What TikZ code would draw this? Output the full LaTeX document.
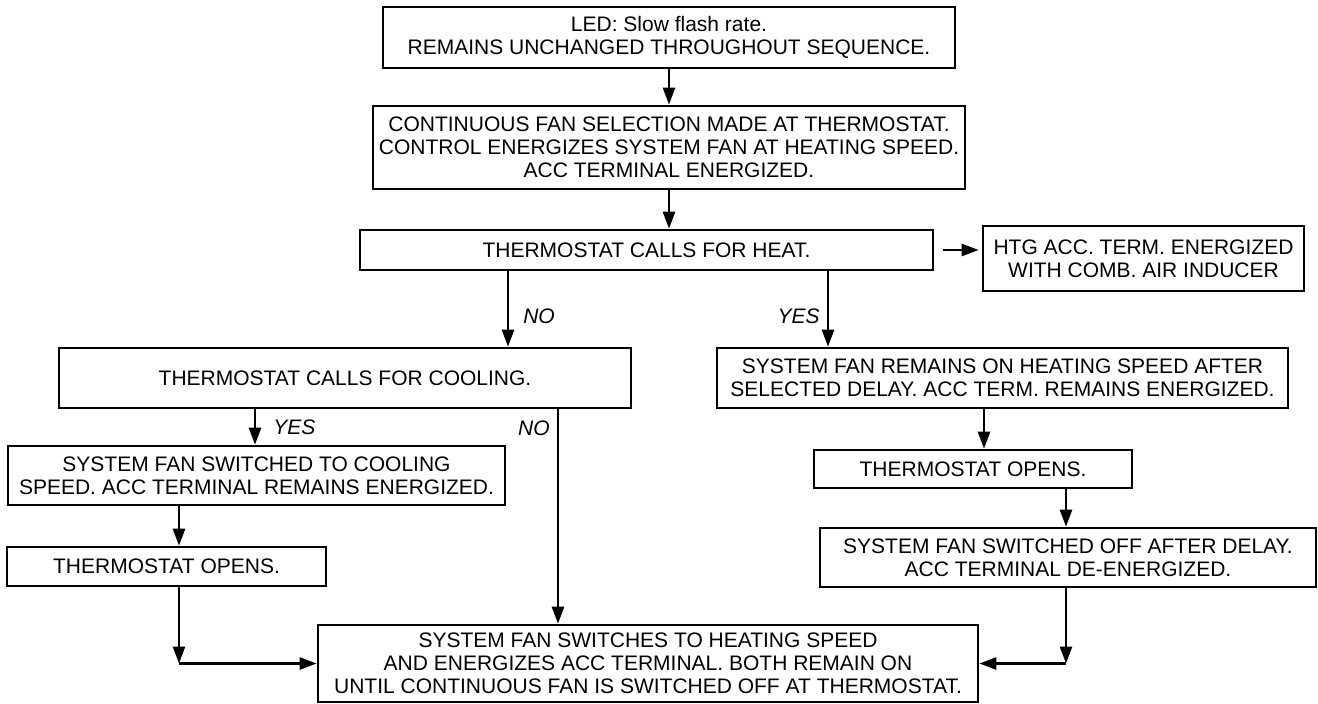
\documentclass[tikz,border=0pt]{standalone}
\usepackage{fontspec}
\setmainfont{Liberation Sans}
\usetikzlibrary{arrows.meta}

\begin{document}
\begin{tikzpicture}[x=1pt, y=-1pt,
  box/.style={draw, line width=2.6pt, align=center, inner sep=0pt, font=\fontsize{21}{23}\selectfont},
  arr/.style={line width=2.6pt, -{Triangle[length=17pt,width=12pt]}},
  lbl/.style={inner sep=0pt, font=\fontsize{21}{23}\selectfont\itshape}]

\useasboundingbox (0,0) rectangle (1318,704);

\node [box, minimum width=572pt, minimum height=61pt] (led) at (669,37.5) {LED: Slow flash rate.\\REMAINS UNCHANGED THROUGHOUT SEQUENCE.};
\node [box, minimum width=592pt, minimum height=83pt] (contfan) at (669,147.5) {CONTINUOUS FAN SELECTION MADE AT THERMOSTAT.\\CONTROL ENERGIZES SYSTEM FAN AT HEATING SPEED.\\ACC TERMINAL ENERGIZED.};
\node [box, minimum width=573pt, minimum height=40pt] (heat) at (646.5,250) {THERMOSTAT CALLS FOR HEAT.};
\node [box, minimum width=321pt, minimum height=65pt] (htg) at (1143.5,258.5) {HTG ACC. TERM. ENERGIZED\\WITH COMB. AIR INDUCER};

\node [box, minimum width=572pt, minimum height=60pt] (cool) at (345,378) {THERMOSTAT CALLS FOR COOLING.};
\node [box, minimum width=571pt, minimum height=60pt] (remain) at (1002.5,378) {SYSTEM FAN REMAINS ON HEATING SPEED AFTER\\SELECTED DELAY. ACC TERM. REMAINS ENERGIZED.};
\node [box, minimum width=497pt, minimum height=59pt] (coolspd) at (256.5,475.5) {SYSTEM FAN SWITCHED TO COOLING\\SPEED. ACC TERMINAL REMAINS ENERGIZED.};
\node [box, minimum width=319pt, minimum height=39pt] (openl) at (166.5,566.5) {THERMOSTAT OPENS.};
\node [box, minimum width=318pt, minimum height=38pt] (openr) at (973,469) {THERMOSTAT OPENS.};
\node [box, minimum width=496pt, minimum height=59pt] (fanoff) at (1068,557.5) {SYSTEM FAN SWITCHED OFF AFTER DELAY.\\ACC TERMINAL DE-ENERGIZED.};
\node [box, minimum width=660pt, minimum height=77pt] (final) at (648,663.5) {SYSTEM FAN SWITCHES TO HEATING SPEED\\AND ENERGIZES ACC TERMINAL. BOTH REMAIN ON\\UNTIL CONTINUOUS FAN IS SWITCHED OFF AT THERMOSTAT.};

\draw [arr] (led) -- (contfan);
\draw [arr] (contfan.south) -- (contfan.south |- heat.north);
\draw [arr, shorten <=9pt, shorten >=3pt] (heat.east) -- (heat.east -| htg.west);

\draw [arr] ([xshift=-138.5pt]heat.south) -- ([xshift=-138.5pt]heat.south |- cool.north) node [lbl, right=14pt, pos=0.59] {NO};
\draw [arr] ([xshift=181.5pt]heat.south) -- ([xshift=181.5pt]heat.south |- remain.north) node [lbl, left=7pt, pos=0.59] {YES};

\draw [arr] ([xshift=-90pt]cool.south) -- ([xshift=-90pt]cool.south |- coolspd.north) node [lbl, right=17pt, midway] {YES};
\draw [arr] ([xshift=213pt]cool.south) -- ([xshift=213pt]cool.south |- final.north) node [lbl, left=7pt, pos=0.09] {NO};

\draw [arr] ([xshift=-77.5pt]coolspd.south) -- ([xshift=-77.5pt]coolspd.south |- openl.north);
\coordinate (lturn) at ([xshift=12.5pt]openl.south |- final.west);
\draw [arr] ([xshift=12.5pt]openl.south) -- (lturn);
\draw [arr] (lturn) -- (final.west);

\draw [arr] ([xshift=-18.5pt]remain.south) -- ([xshift=-18.5pt]remain.south |- openr.north);
\draw [arr] ([xshift=93pt]openr.south) -- ([xshift=93pt]openr.south |- fanoff.north);
\coordinate (rturn) at ([xshift=-2pt]fanoff.south |- final.east);
\draw [arr] ([xshift=-2pt]fanoff.south) -- (rturn);
\draw [arr] (rturn) -- (final.east);
\end{tikzpicture}
\end{document}
